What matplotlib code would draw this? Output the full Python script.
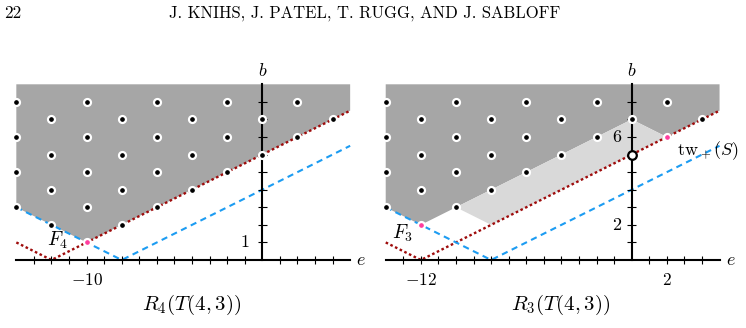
import numpy as np
import matplotlib.pyplot as plt

plt.rcParams['mathtext.fontset'] = 'cm'

# lattice points (e, b) drawn as black dots, row by row
rows_b = [9, 8, 7, 6, 5, 4, 3, 2]
left_rows_e = [[-14, -10, -6, -2, 2],
               [-12, -8, -4, 0, 4],
               [-14, -10, -6, -2, 2],
               [-12, -8, -4, 0],
               [-14, -10, -6, -2],
               [-12, -8, -4],
               [-14, -10, -6],
               [-12, -8]]
right_rows_e = [[-14, -10, -6, -2, 2],
                [-12, -8, -4, 0, 4],
                [-14, -10, -6, -2],
                [-12, -8, -4],
                [-14, -10, -6],
                [-12, -8],
                [-14, -10],
                []]
left_pink = (-10, 1)
right_pink_e = [-12, 2]
right_pink_b = [2, 7]
right_open = (0, 6)

# shaded regions
dark4_e = [-14, 5, 5, -10, -14]
dark4_b = [10, 10, 8.5, 1, 3]
dark3_e = [-14, 5, 5, 2, 0, -10, -12, -14]
dark3_b = [10, 10, 8.5, 7, 8, 3, 2, 3]
light3_e = [-10, 0, 2, -8]
light3_b = [3, 8, 7, 2]

# the two V-shaped lines
red_e = [-14, -12, 5]
red_b = [1, 0, 8.5]
blue_e = [-14, -8, 5]
blue_b = [3, 0, 6.5]

e_min, e_max = -14, 5
b_max = 10
e_ticks = [e for e in range(-13, 5) if e != 0]
b_ticks = list(range(1, 10))

W, H = 746, 328
U = 17.57
DARK = '#a6a6a6'
LIGHT = '#d9d9d9'
RED = '#9e0b0b'
BLUE = '#1c9cf2'
PINK = '#ff3d9e'

fig = plt.figure(figsize=(W / 100, H / 100), dpi=100)


def panel(ox, oy):
    x0, x1, y0, y1 = -14.8, 6.4, -1.8, 11.6
    ax = fig.add_axes([(ox + x0 * U) / W, (H - oy + y0 * U) / H,
                       (x1 - x0) * U / W, (y1 - y0) * U / H])
    ax.set_xlim(x0, x1)
    ax.set_ylim(y0, y1)
    ax.axis('off')
    return ax


def frame(ax):
    ax.plot(red_e, red_b, color=RED, lw=1.7, ls=(0, (1.1, 1.1)), zorder=2)
    ax.plot(blue_e, blue_b, color=BLUE, lw=1.5, ls=(0, (3, 2.2)), zorder=2)
    ax.plot([e_min, e_max], [0, 0], color='black', lw=1.5, zorder=3)
    ax.plot([0, 0], [0, b_max], color='black', lw=1.5, zorder=3)
    ax.vlines(e_ticks, -0.25, 0.25, color='black', lw=0.8, zorder=3)
    ax.hlines(b_ticks, -0.25, 0.25, color='black', lw=0.8, zorder=3)
    ax.text(5.62, 0, '$e$', fontsize=13, ha='center', va='center')
    ax.text(0, 10.75, '$b$', fontsize=13, ha='center', va='center')


def dots(ax, rows_e):
    for b, es in zip(rows_b, rows_e):
        ax.plot(es, [b] * len(es), 'o', ms=5, mfc='black', mec='white',
                mew=1.6, ls='none', zorder=5)


# left panel: R_4
ax = panel(262.3, 260.0)
ax.fill(dark4_e, dark4_b, color=DARK, lw=0, zorder=1)
frame(ax)
dots(ax, left_rows_e)
ax.plot(*left_pink, 'o', ms=5, mfc=PINK, mec='white', mew=1.6, zorder=5)
ax.text(-11.67, 1.12, '$F_4$', fontsize=14, ha='center', va='center')
ax.text(-0.98, 1, '$1$', fontsize=13, ha='center', va='center')
ax.text(-10, -1.15, '$-10$', fontsize=12.5, ha='center', va='center')

# right panel: R_3
ax = panel(631.7, 260.0)
ax.fill(dark3_e, dark3_b, color=DARK, lw=0, zorder=1)
ax.fill(light3_e, light3_b, color=LIGHT, lw=0, zorder=1)
frame(ax)
dots(ax, right_rows_e)
ax.plot(right_pink_e, right_pink_b, 'o', ms=5, mfc=PINK, mec='white',
        mew=1.6, ls='none', zorder=5)
ax.plot(*right_open, 'o', ms=6.2, mfc='white', mec='black', mew=1.6, zorder=5)
ax.text(-13.06, 1.52, '$F_3$', fontsize=14, ha='center', va='center')
ax.text(4.33, 6.2, r'$\mathrm{tw}_+(S)$', fontsize=13, ha='center', va='center')
ax.text(-0.85, 7, '$6$', fontsize=13, ha='center', va='center')
ax.text(-0.85, 2, '$2$', fontsize=13, ha='center', va='center')
ax.text(-12, -1.15, '$-12$', fontsize=12.5, ha='center', va='center')
ax.text(2, -1.15, '$2$', fontsize=12.5, ha='center', va='center')

# captions and running head
fig.text(191.7 / W, 1 - 305 / H, '$R_4(T(4,3))$', fontsize=15,
         ha='center', va='center')
fig.text(560.6 / W, 1 - 305 / H, '$R_3(T(4,3))$', fontsize=15,
         ha='center', va='center')
fig.text(12.8 / W, 1 - 13 / H, '22', fontsize=12.5, family='cmr10',
         ha='center', va='center')
fig.text(365 / W, 1 - 13 / H, 'J. KNIHS, J. PATEL, T. RUGG, AND J. SABLOFF',
         fontsize=12, family='cmr10', ha='center', va='center')

fig.savefig('out.png', dpi=100)
